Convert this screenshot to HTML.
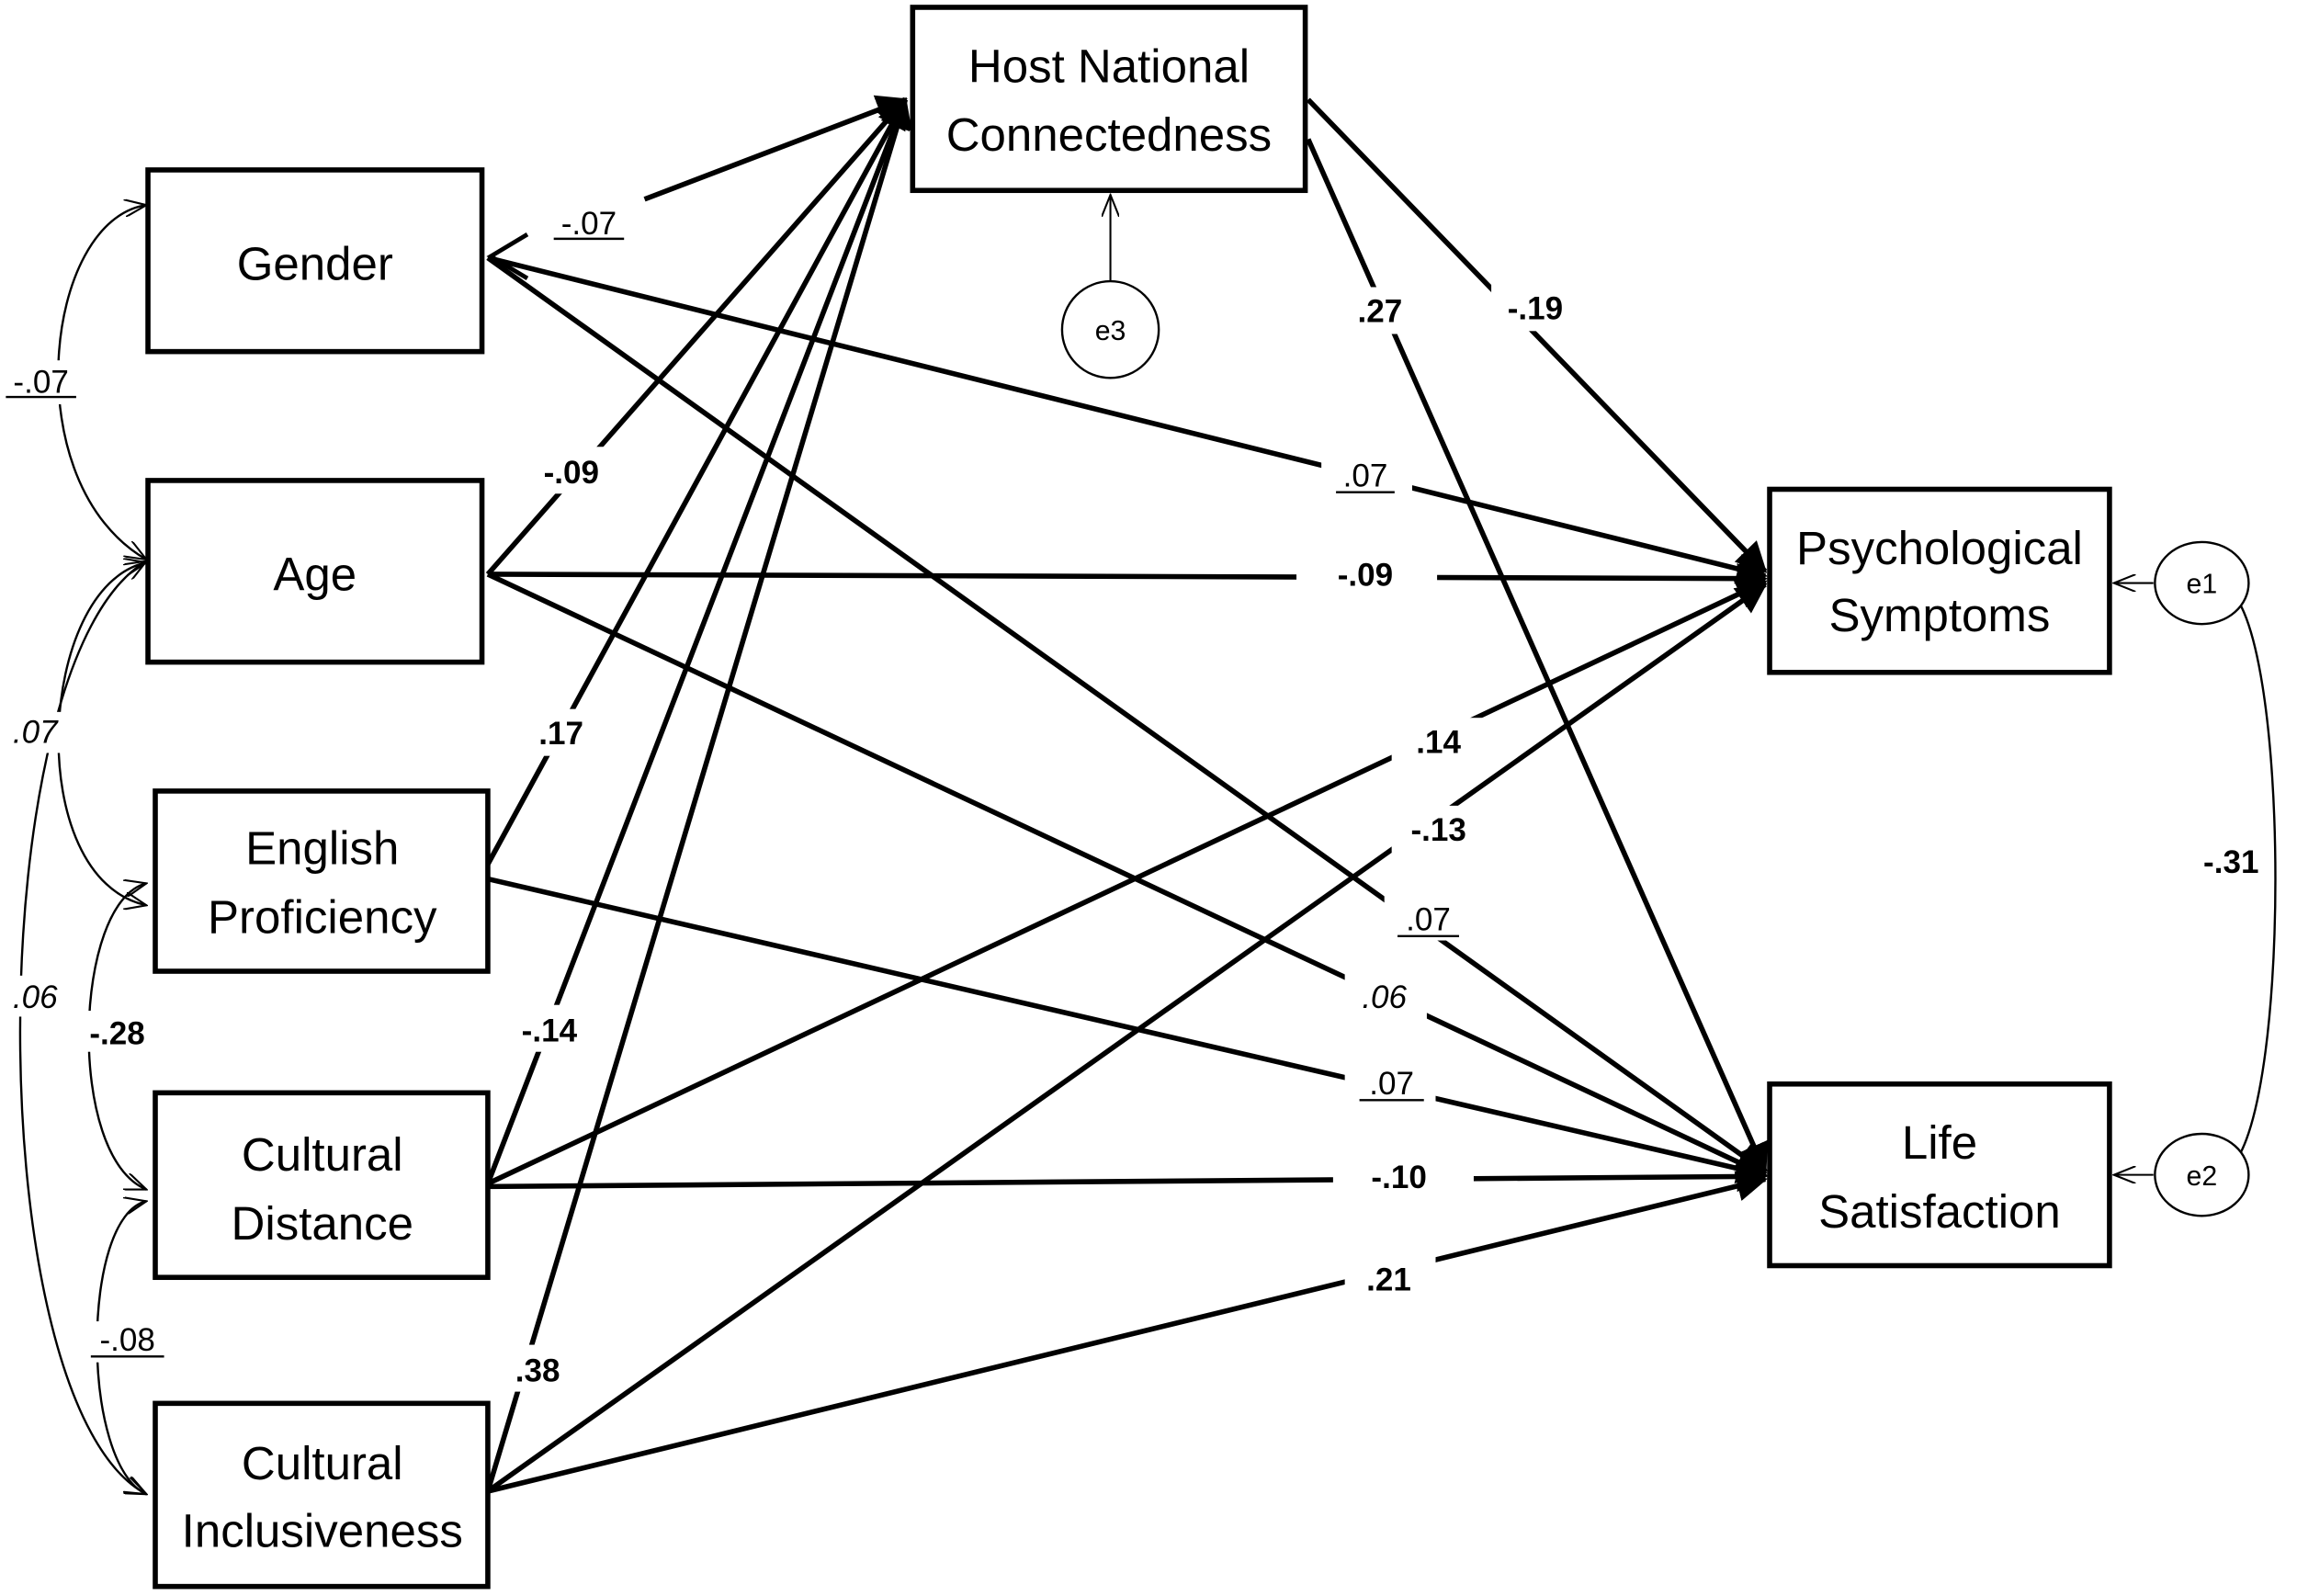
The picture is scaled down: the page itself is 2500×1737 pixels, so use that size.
<!DOCTYPE html>
<html><head><meta charset="utf-8"><style>
html,body{margin:0;padding:0;background:#fff;}
svg{display:block;}
text{font-family:"Liberation Sans",sans-serif;fill:#000;}
.b{font-size:32px;text-anchor:middle;}
.l{font-size:22px;font-weight:bold;text-anchor:middle;}
.li{font-size:22px;font-style:italic;text-anchor:middle;}
.lu{font-size:22px;text-anchor:middle;}
</style></head><body>
<svg width="2500" height="1737" viewBox="0 0 1568 1089.5" preserveAspectRatio="none" xmlns="http://www.w3.org/2000/svg">
<defs>
<marker id="A" markerWidth="6" markerHeight="6" refX="5.5" refY="3" orient="auto" markerUnits="strokeWidth">
<path d="M0,0 L6,3 L0,6 z" fill="#000"/></marker>
<marker id="O" markerWidth="16" markerHeight="12" refX="15" refY="6" orient="auto" markerUnits="userSpaceOnUse">
<path d="M0,0 L15,6 L0,12" fill="none" stroke="#000" stroke-width="1.3"/></marker>
<marker id="OS" markerWidth="16" markerHeight="12" refX="15" refY="6" orient="auto-start-reverse" markerUnits="userSpaceOnUse">
<path d="M0,0 L15,6 L0,12" fill="none" stroke="#000" stroke-width="1.3"/></marker>
</defs>
<rect width="1568" height="1089.5" fill="#fff"/>
<g stroke="#000" stroke-width="3.5" fill="none" marker-end="url(#A)">
<line x1="440" y1="136" x2="618" y2="68"/>
<line x1="333" y1="392" x2="618" y2="68"/>
<line x1="333" y1="590" x2="618" y2="68"/>
<line x1="333" y1="808" x2="618" y2="68"/>
<line x1="333" y1="1018" x2="618" y2="68"/>
<line x1="333" y1="176" x2="1205" y2="393"/>
<line x1="333" y1="392" x2="1205" y2="395"/>
<line x1="333" y1="808" x2="1205" y2="397"/>
<line x1="333" y1="1018" x2="1205" y2="399"/>
<line x1="893" y1="68" x2="1205" y2="390"/>
<line x1="333" y1="176" x2="1205" y2="800"/>
<line x1="333" y1="392" x2="1205" y2="802"/>
<line x1="333" y1="600" x2="1205" y2="802"/>
<line x1="333" y1="810" x2="1205" y2="803"/>
<line x1="333" y1="1018" x2="1205" y2="805"/>
<line x1="893" y1="95" x2="1205" y2="800"/>
</g>
<path d="M360,160 L335,175 L360,190" fill="none" stroke="#000" stroke-width="3"/>
<g stroke="#000" stroke-width="1.3" fill="none" marker-end="url(#O)">
<line x1="758" y1="192" x2="758" y2="133"/>
<line x1="1470" y1="398" x2="1443" y2="398"/>
<line x1="1470" y1="802" x2="1443" y2="802"/>
</g>
<g stroke="#000" stroke-width="1.5" fill="none" marker-end="url(#OS)" marker-start="url(#OS)">
<path d="M100,140 C30,150 10,330 100,382"/>
<path d="M100,384 C25,400 15,600 100,618"/>
<path d="M100,383 C-15,450 -15,960 100,1020"/>
<path d="M100,603 C50,615 45,790 100,812"/>
<path d="M100,820 C55,830 55,1000 100,1020"/>
<path d="M1518,400 C1565,420 1565,780 1518,800"/>
</g>
<g stroke="#000" stroke-width="3.5" fill="#fff">
<rect x="101" y="116" width="228" height="124"/>
<rect x="101" y="328" width="228" height="124"/>
<rect x="106" y="540" width="227" height="123"/>
<rect x="106" y="746" width="227" height="126"/>
<rect x="106" y="958" width="227" height="125"/>
<rect x="623" y="5" width="268" height="125"/>
<rect x="1208" y="334" width="232" height="125"/>
<rect x="1208" y="740" width="232" height="124"/>
</g>
<g stroke="#000" stroke-width="1.5" fill="#fff">
<ellipse cx="758" cy="225" rx="33" ry="33"/>
<ellipse cx="1503" cy="398" rx="32" ry="28"/>
<ellipse cx="1503" cy="802" rx="32" ry="28"/>
</g>
<text class="b" x="215" y="191">Gender</text>
<text class="b" x="215" y="403">Age</text>
<text class="b" x="220" y="590">English</text>
<text class="b" x="220" y="637">Proficiency</text>
<text class="b" x="220" y="799">Cultural</text>
<text class="b" x="220" y="846">Distance</text>
<text class="b" x="220" y="1010">Cultural</text>
<text class="b" x="220" y="1056">Inclusiveness</text>
<text class="b" x="757" y="56">Host National</text>
<text class="b" x="757" y="103">Connectedness</text>
<text class="b" x="1324" y="385">Psychological</text>
<text class="b" x="1324" y="431">Symptoms</text>
<text class="b" x="1324" y="791">Life</text>
<text class="b" x="1324" y="838">Satisfaction</text>
<text x="758" y="232" font-size="19" text-anchor="middle">e3</text>
<text x="1503" y="405" font-size="19" text-anchor="middle">e1</text>
<text x="1503" y="809" font-size="19" text-anchor="middle">e2</text>
<g>
<rect x="370" y="135" width="64" height="30" fill="#fff"/>
<text class="lu" x="402" y="160">-.07</text><line x1="378" y1="163" x2="426" y2="163" stroke="#000" stroke-width="1.5"/>
<rect x="902" y="308" width="62" height="30" fill="#fff"/>
<text class="lu" x="932" y="332">.07</text><line x1="912" y1="336" x2="952" y2="336" stroke="#000" stroke-width="1.5"/>
<rect x="362" y="305" width="58" height="32" fill="#fff"/><text class="l" x="390" y="330">-.09</text>
<rect x="885" y="376" width="96" height="32" fill="#fff"/><text class="l" x="932" y="400">-.09</text>
<rect x="358" y="484" width="52" height="32" fill="#fff"/><text class="l" x="383" y="508">.17</text>
<rect x="950" y="490" width="64" height="32" fill="#fff"/><text class="l" x="982" y="514">.14</text>
<rect x="950" y="550" width="64" height="32" fill="#fff"/><text class="l" x="982" y="574">-.13</text>
<rect x="945" y="610" width="62" height="32" fill="#fff"/>
<text class="lu" x="975" y="635">.07</text><line x1="954" y1="639" x2="996" y2="639" stroke="#000" stroke-width="1.5"/>
<rect x="918" y="664" width="56" height="32" fill="#fff"/><text class="li" x="945" y="688">.06</text>
<rect x="918" y="722" width="62" height="32" fill="#fff"/>
<text class="lu" x="950" y="747">.07</text><line x1="928" y1="751" x2="972" y2="751" stroke="#000" stroke-width="1.5"/>
<rect x="346" y="686" width="58" height="32" fill="#fff"/><text class="l" x="375" y="711">-.14</text>
<rect x="910" y="786" width="96" height="32" fill="#fff"/><text class="l" x="955" y="811">-.10</text>
<rect x="918" y="856" width="62" height="32" fill="#fff"/><text class="l" x="948" y="881">.21</text>
<rect x="340" y="918" width="54" height="32" fill="#fff"/><text class="l" x="367" y="943">.38</text>
<rect x="918" y="196" width="50" height="32" fill="#fff"/><text class="l" x="942" y="220">.27</text>
<rect x="1018" y="194" width="60" height="32" fill="#fff"/><text class="l" x="1048" y="218">-.19</text>
<rect x="1500" y="572" width="50" height="32" fill="#fff"/><text class="l" x="1523" y="596">-.31</text>
<rect x="2" y="246" width="54" height="30" fill="#fff"/>
<text class="lu" x="28" y="268">-.07</text><line x1="4" y1="271" x2="52" y2="271" stroke="#000" stroke-width="1.5"/>
<rect x="2" y="486" width="44" height="28" fill="#fff"/><text class="li" x="24" y="507">.07</text>
<rect x="2" y="666" width="46" height="28" fill="#fff"/><text class="li" x="24" y="688">.06</text>
<rect x="52" y="690" width="54" height="28" fill="#fff"/><text class="l" x="80" y="713">-.28</text>
<rect x="60" y="902" width="56" height="28" fill="#fff"/>
<text class="lu" x="87" y="922">-.08</text><line x1="62" y1="926" x2="112" y2="926" stroke="#000" stroke-width="1.5"/>
</g>
</svg>
</body></html>
